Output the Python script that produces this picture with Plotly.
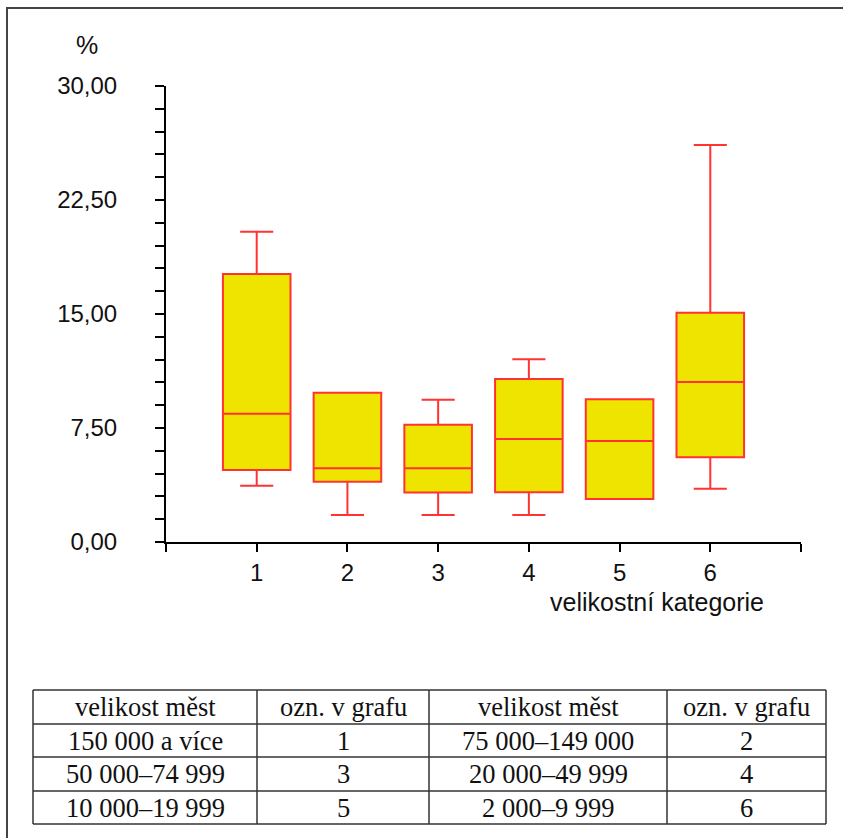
import plotly.graph_objects as go

# ---- data ----
categories = [1, 2, 3, 4, 5, 6]
lower_fence = [3.70, 1.78, 1.78, 1.78, 2.83, 3.51]
q1_vals = [4.74, 3.97, 3.26, 3.27, 2.83, 5.57]
median_vals = [8.44, 4.85, 4.85, 6.78, 6.64, 10.53]
q3_vals = [17.63, 9.82, 7.72, 10.72, 9.39, 15.09]
upper_fence = [20.41, 9.82, 9.36, 12.02, 9.39, 26.12]

x_tickvals = [0, 1, 2, 3, 4, 5, 6, 7]
x_ticktext = ["", "1", "2", "3", "4", "5", "6", ""]

table_header = ["velikost měst", "ozn. v grafu", "velikost měst", "ozn. v grafu"]
table_rows = [
    ["150 000 a více", "1", "75 000–149 000", "2"],
    ["50 000–74 999", "3", "20 000–49 999", "4"],
    ["10 000–19 999", "5", "2 000–9 999", "6"],
]

# ---- layout geometry (pixels) ----
FIG_W, FIG_H = 843, 838
L, R, T, B = 166, 801, 86, 542
PW, PH = R - L, B - T


def px(x):
    return (x - L) / PW


def py(y):
    return (B - y) / PH


RED = "#FF3333"
YELLOW = "#EFE300"
SANS = "Liberation Sans, Arial, sans-serif"
SERIF = "Liberation Serif, Times New Roman, serif"

fig = go.Figure()
fig.add_trace(go.Box(
    x=categories,
    q1=q1_vals,
    median=median_vals,
    q3=q3_vals,
    lowerfence=lower_fence,
    upperfence=upper_fence,
    width=0.745,
    whiskerwidth=0.49,
    fillcolor=YELLOW,
    line=dict(color=RED, width=2),
    boxpoints=False,
    hoverinfo="skip",
    showlegend=False,
))

shapes = []
annotations = []

# outer frame
shapes.append(dict(type="rect", xref="paper", yref="paper",
                   x0=px(7), x1=px(850), y0=py(8), y1=py(850),
                   line=dict(color="#444444", width=2), fillcolor="rgba(0,0,0,0)",
                   layer="below"))

# table grid
col_x = [33, 257, 429, 667, 826]
row_y = [690, 724, 757, 791, 824]
for cx in col_x:
    shapes.append(dict(type="line", xref="paper", yref="paper",
                       x0=px(cx), x1=px(cx), y0=py(row_y[0]), y1=py(row_y[-1]),
                       line=dict(color="#333333", width=1.5)))
for ry in row_y:
    shapes.append(dict(type="line", xref="paper", yref="paper",
                       x0=px(col_x[0]), x1=px(col_x[-1]), y0=py(ry), y1=py(ry),
                       line=dict(color="#333333", width=1.5)))

all_rows = [table_header] + table_rows
for ri, row in enumerate(all_rows):
    yc = (row_y[ri] + row_y[ri + 1]) / 2
    for ci, txt in enumerate(row):
        xc = (col_x[ci] + col_x[ci + 1]) / 2
        annotations.append(dict(text=txt, xref="paper", yref="paper",
                                x=px(xc), y=py(yc), xanchor="center", yanchor="middle",
                                showarrow=False,
                                font=dict(family=SERIF, size=26.5, color="#111111")))

# "%" label and x-axis title
annotations.append(dict(text="%", xref="paper", yref="paper", x=px(87), y=py(45),
                        xanchor="center", yanchor="middle", showarrow=False,
                        font=dict(family=SANS, size=25, color="#111111")))
annotations.append(dict(text="velikostní kategorie", xref="paper", yref="paper",
                        x=px(657), y=py(602), xanchor="center", yanchor="middle",
                        showarrow=False,
                        font=dict(family=SANS, size=25, color="#111111")))

fig.update_layout(
    width=FIG_W, height=FIG_H,
    margin=dict(l=L, r=FIG_W - R, t=T, b=FIG_H - B, pad=0),
    paper_bgcolor="white", plot_bgcolor="white",
    separators=", ",
    showlegend=False,
    shapes=shapes,
    annotations=annotations,
    xaxis=dict(
        range=[0, 7], tickmode="array", tickvals=x_tickvals, ticktext=x_ticktext,
        showline=True, linecolor="black", linewidth=2,
        ticks="outside", ticklen=8, tickwidth=2, tickcolor="black",
        showgrid=False, zeroline=False,
        tickfont=dict(family=SANS, size=24, color="#111111"),
        ticklabelstandoff=0,
    ),
    yaxis=dict(
        range=[0, 30], tickmode="linear", tick0=0, dtick=7.5, tickformat=".2f",
        showline=True, linecolor="black", linewidth=2,
        ticks="outside", ticklen=9, tickwidth=2, tickcolor="black",
        minor=dict(dtick=1.5, tick0=0, ticks="outside", ticklen=9, tickwidth=2,
                   tickcolor="black", showgrid=False),
        showgrid=False, zeroline=False,
        tickfont=dict(family=SANS, size=24, color="#111111"),
        ticklabelstandoff=33,
    ),
)

fig.write_html("out.html")
